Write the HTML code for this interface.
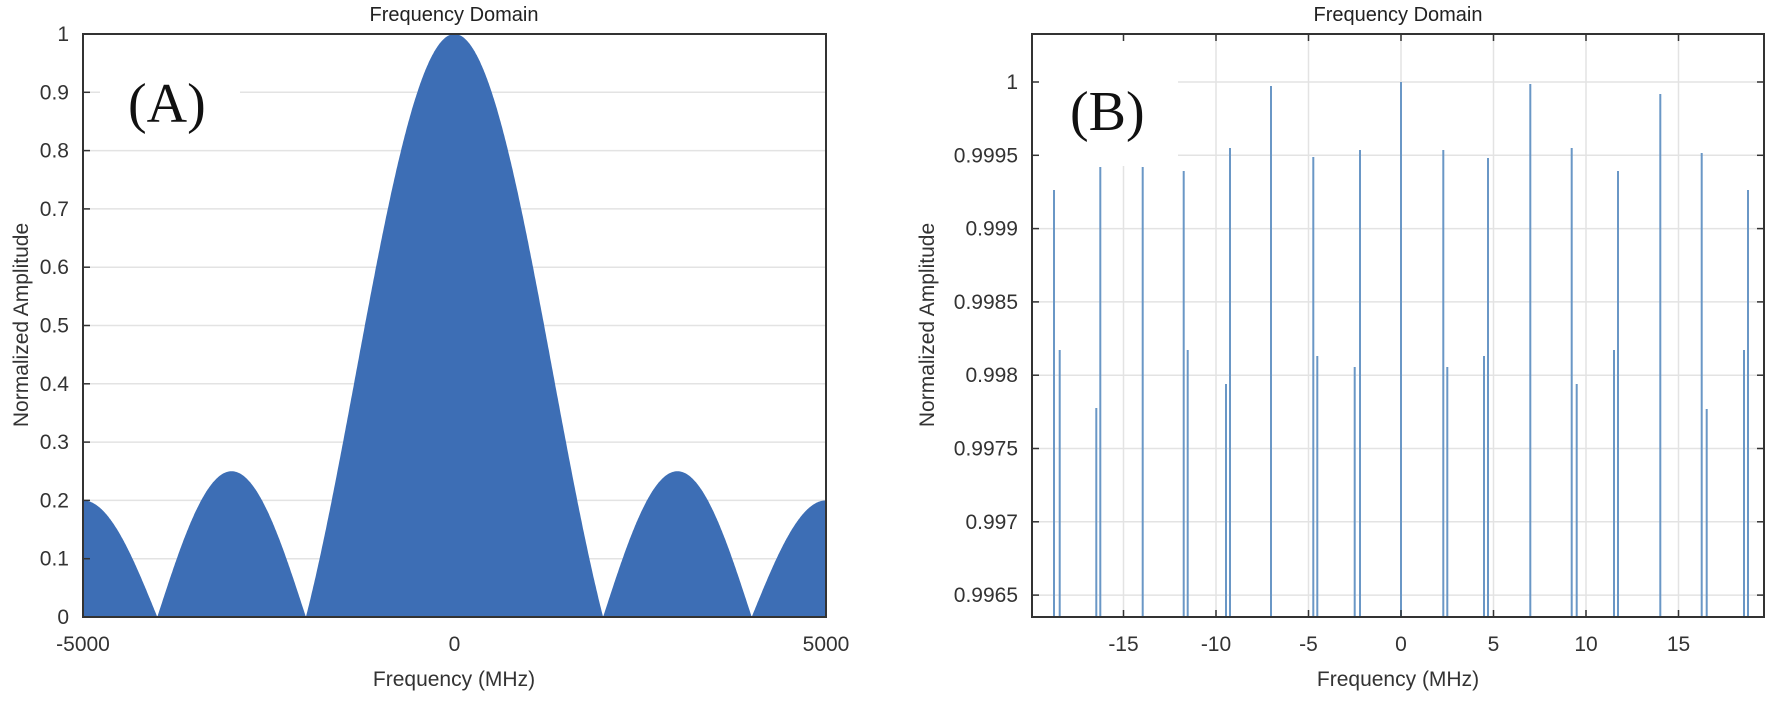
<!DOCTYPE html>
<html><head><meta charset="utf-8"><style>
html,body{margin:0;padding:0;background:#fff;}
svg{display:block;font-family:"Liberation Sans",Arial,sans-serif;}
</style></head><body>
<svg id="s" width="1772" height="702" viewBox="0 0 1772 702" xmlns="http://www.w3.org/2000/svg">
<rect width="1772" height="702" fill="#fff"/>
<g id="L"></g>
<g id="R"></g>
</svg>
<script>
var NS="http://www.w3.org/2000/svg";
function el(p,t,a,txt){var e=document.createElementNS(NS,t);for(var k in a)e.setAttribute(k,a[k]);if(txt!==undefined)e.textContent=txt;p.appendChild(e);return e;}
var L=document.getElementById('L'),R=document.getElementById('R');
// LEFT
var x0=83,x1=826,y0=617,y1=34;
function lx(f){return x0+(f+5000)/10000*(x1-x0);}
function ly(v){return y0-v*(y0-y1);}
for(var i=1;i<=9;i++){el(L,'line',{x1:x0,x2:x1,y1:ly(i/10),y2:ly(i/10),stroke:'#e3e3e3','stroke-width':1.5});}
function amp(f){var a=Math.abs(f);if(a<1e-9)return 1;
 if(a<2000){var u=Math.PI*a/2000;return Math.sin(u)/u;}
 if(a<4000)return 0.25*Math.sin(Math.PI*(a-2000)/2000);
 return 0.2*Math.sin(Math.PI*(a-4000)/2000);}
var d='M'+lx(-5000)+','+y0;
for(var f=-5000;f<=5000;f+=10){d+=' L'+lx(f).toFixed(1)+','+ly(amp(f)).toFixed(1);}
d+=' L'+lx(5000)+','+y0+' Z';
el(L,'path',{d:d,fill:'#3d6eb5'});
el(L,'rect',{x:100,y:36,width:140,height:100,fill:'#fff'});
el(L,'rect',{x:x0,y:y1,width:x1-x0,height:y0-y1,fill:'none',stroke:'#333','stroke-width':2});
for(var i=0;i<=10;i++){var v=i/10;el(L,'line',{x1:x0,x2:x0+7,y1:ly(v),y2:ly(v),stroke:'#333','stroke-width':1.5});
 el(L,'text',{x:69,y:ly(v)+7,'text-anchor':'end','font-size':21,fill:'#333'},i==0?'0':(i==10?'1':'0.'+i));}
[-5000,0,5000].forEach(function(f){el(L,'text',{x:lx(f),y:651,'text-anchor':'middle','font-size':21,fill:'#333'},String(f));});
el(L,'text',{x:454,y:686,'text-anchor':'middle','font-size':21,fill:'#333'},'Frequency (MHz)');
el(L,'text',{x:454,y:21,'text-anchor':'middle','font-size':20,fill:'#222'},'Frequency Domain');
el(L,'text',{x:0,y:0,'text-anchor':'middle','font-size':21,fill:'#333',transform:'translate(28,325) rotate(-90)'},'Normalized Amplitude');
el(L,'text',{x:128,y:122,'font-size':56,'font-family':'Liberation Serif,serif',fill:'#111'},'(A)');
// RIGHT
var rx0=1032,rx1=1764;
function rx(v){return 1401+v*18.5;}
function ry(v){return 82+(1-v)/0.0005*73.3;}
for(var k=-15;k<=15;k+=5){el(R,'line',{x1:rx(k),x2:rx(k),y1:y1,y2:y0,stroke:'#e3e3e3','stroke-width':1.5});}
for(var i=0;i<=7;i++){var v=1-i*0.0005;el(R,'line',{x1:rx0,x2:rx1,y1:ry(v),y2:ry(v),stroke:'#e3e3e3','stroke-width':1.5});}
el(R,'rect',{x:1034,y:36,width:144,height:130,fill:'#fff'});
var st=[[1054,190],[1059.7,350],[1096.3,408],[1100.3,167],[1142.7,167],[1183.7,171],[1187.7,350],[1226,384],[1230,148],[1271,86],[1313.3,157],[1317.3,356],[1354.7,367],[1360,150],[1401,82],[1443.3,150],[1447.3,367],[1484,356],[1488,158],[1530.3,84],[1571.7,148],[1576.7,384],[1614,350],[1618,171],[1660.3,94],[1701.7,153],[1706.7,409],[1744,350],[1748,190]];
st.forEach(function(p){el(R,'line',{x1:p[0],x2:p[0],y1:p[1],y2:y0,stroke:'#6a97c6','stroke-width':2});});
el(R,'rect',{x:rx0,y:y1,width:rx1-rx0,height:y0-y1,fill:'none',stroke:'#333','stroke-width':2});
var yl=['1','0.9995','0.999','0.9985','0.998','0.9975','0.997','0.9965'];
for(var i=0;i<=7;i++){var v=1-i*0.0005;el(R,'line',{x1:rx0,x2:rx0+7,y1:ry(v),y2:ry(v),stroke:'#333','stroke-width':1.5});
 el(R,'line',{x1:rx1-7,x2:rx1,y1:ry(v),y2:ry(v),stroke:'#333','stroke-width':1.5});
 el(R,'text',{x:1018,y:ry(v)+7,'text-anchor':'end','font-size':21,fill:'#333'},yl[i]);}
for(var k=-15;k<=15;k+=5){el(R,'line',{x1:rx(k),x2:rx(k),y1:y0-7,y2:y0,stroke:'#333','stroke-width':1.5});
 el(R,'line',{x1:rx(k),x2:rx(k),y1:y1,y2:y1+7,stroke:'#333','stroke-width':1.5});
 el(R,'text',{x:rx(k),y:651,'text-anchor':'middle','font-size':21,fill:'#333'},String(k));}
el(R,'text',{x:1398,y:686,'text-anchor':'middle','font-size':21,fill:'#333'},'Frequency (MHz)');
el(R,'text',{x:1398,y:21,'text-anchor':'middle','font-size':20,fill:'#222'},'Frequency Domain');
el(R,'text',{x:0,y:0,'text-anchor':'middle','font-size':21,fill:'#333',transform:'translate(934,325) rotate(-90)'},'Normalized Amplitude');
el(R,'text',{x:1070,y:130,'font-size':56,'font-family':'Liberation Serif,serif',fill:'#111'},'(B)');
</script>
</body></html>
